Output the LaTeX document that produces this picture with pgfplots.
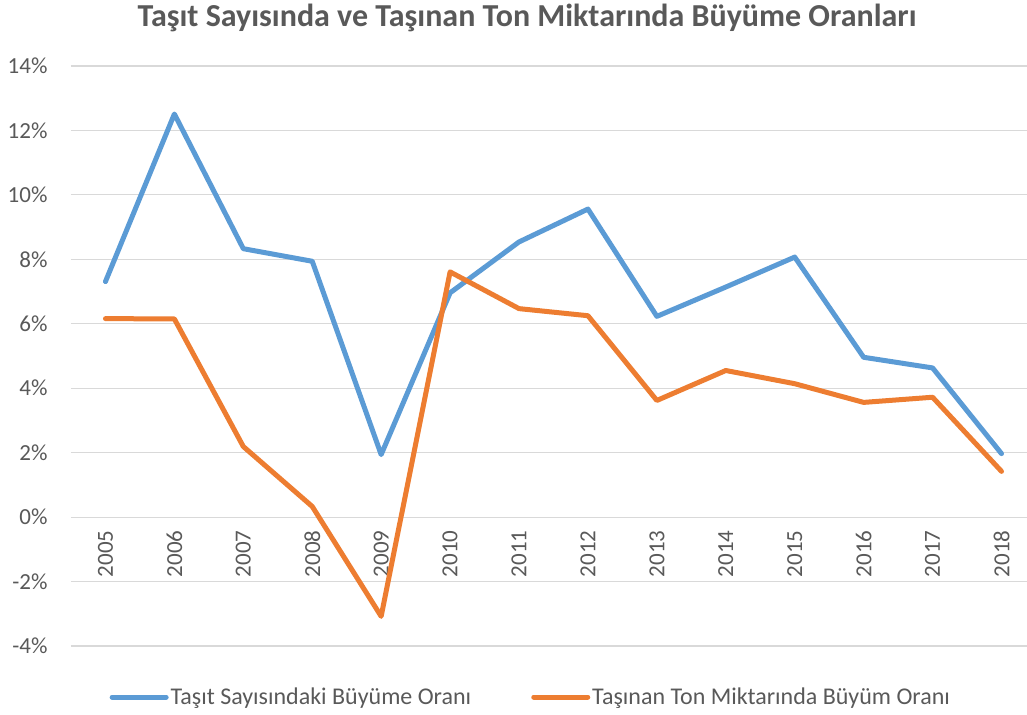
\documentclass[border=0pt]{standalone}
\usepackage{pgfplots}
\pgfplotsset{compat=1.18}
\usepackage{fontspec}
\setmainfont{Carlito}
\definecolor{cblue}{HTML}{5B9BD5}
\definecolor{corange}{HTML}{ED7D31}
\definecolor{ctext}{HTML}{595959}
\definecolor{cgrid}{HTML}{D9D9D9}
\begin{document}
\begin{tikzpicture}
\path[use as bounding box] (-71bp,-69bp) rectangle (956bp,646bp);
\begin{axis}[
 scale only axis, width=956bp, height=580bp,
 xmin=-0.5, xmax=13.37, ymin=-4, ymax=14,
 axis x line*=middle, axis y line*=left,
 axis line style={draw=none},
 hide obscured x ticks=false, hide obscured y ticks=false,
 ytick={-4,-2,0,2,4,6,8,10,12,14},
 yticklabels={-4\%,-2\%,0\%,2\%,4\%,6\%,8\%,10\%,12\%,14\%},
 xtick={0,...,13},
 xticklabels={2005,2006,2007,2008,2009,2010,2011,2012,2013,2014,2015,2016,2017,2018},
 major tick length=0pt,
 ymajorgrids, grid style={cgrid, line width=1.2bp},
 tick label style={text=ctext},
 xticklabel style={font=\fontsize{23bp}{27bp}\selectfont, yshift=-10bp, rotate=90, anchor=east},
 yticklabel style={font=\fontsize{23bp}{27bp}\selectfont, anchor=east, xshift=-20bp},
 legend columns=2,
 legend style={draw=none, fill=none, at={(0.481,-0.088)}, anchor=center,
   font=\fontsize{24bp}{28bp}\selectfont, text=ctext,
   /tikz/every even column/.append style={column sep=58bp}},
 legend image code/.code={\draw[#1, line width=5bp, line cap=round] (0bp,0bp) -- (54bp,0bp);},
 clip=false,
]
\addplot[cblue, line width=5bp, line join=round, line cap=round] coordinates {
 (0,7.31) (1,12.51) (2,8.33) (3,7.94) (4,1.94) (5,6.96) (6,8.54) (7,9.56)
 (8,6.23) (9,7.14) (10,8.07) (11,4.96) (12,4.63) (13,1.97)};
\addlegendentry{Taşıt Sayısındaki Büyüme Oranı}
\addplot[corange, line width=5bp, line join=round, line cap=round] coordinates {
 (0,6.16) (1,6.15) (2,2.19) (3,0.33) (4,-3.08) (5,7.61) (6,6.47) (7,6.25)
 (8,3.62) (9,4.55) (10,4.14) (11,3.56) (12,3.72) (13,1.42)};
\addlegendentry{Taşınan Ton Miktarında Büyüm Oranı}
\end{axis}
\node[font=\bfseries\fontsize{32bp}{36bp}\selectfont, text=ctext] at (456bp,628bp) {Taşıt Sayısında ve Taşınan Ton Miktarında Büyüme Oranları};
\end{tikzpicture}
\end{document}
